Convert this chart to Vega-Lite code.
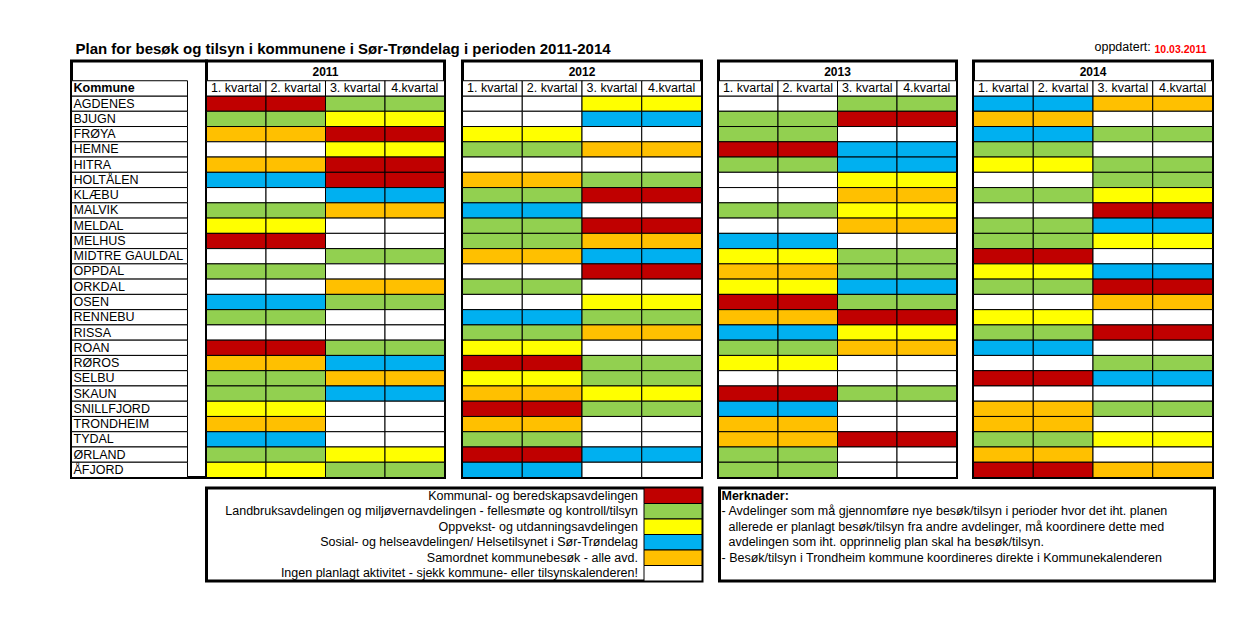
{
"$schema": "https://vega.github.io/schema/vega-lite/v6.json",
"padding": {"left": 69.5, "top": 40, "right": 5, "bottom": 5},
"config": {
  "font": "Liberation Sans",
  "view": {"stroke": "black", "strokeWidth": 3},
  "axis": {"disable": true},
  "legend": {"disable": true},
  "title": {"font": "Liberation Sans", "color": "black"},
  "text": {"font": "Liberation Sans", "color": "black"}
},
"datasets": {
"kvartaler": [{"kvartal":"1. kvartal"},{"kvartal":"2. kvartal"},{"kvartal":"3. kvartal"},{"kvartal":"4.kvartal"}],
"avdelinger": [
 {"avd":"Kommunal","tekst":"Kommunal- og beredskapsavdelingen"},
 {"avd":"Landbruk","tekst":"Landbruksavdelingen og miljøvernavdelingen - fellesmøte og kontroll/tilsyn"},
 {"avd":"Oppvekst","tekst":"Oppvekst- og utdanningsavdelingen"},
 {"avd":"Sosial","tekst":"Sosial- og helseavdelingen/ Helsetilsynet i Sør-Trøndelag"},
 {"avd":"Samordnet","tekst":"Samordnet kommunebesøk - alle avd."},
 {"avd":"Ingen","tekst":"Ingen planlagt aktivitet - sjekk kommune- eller tilsynskalenderen!"}],
"merknader": [
 {"linje":1,"tekst":"Merknader:"},
 {"linje":2,"tekst":"- Avdelinger som må gjennomføre nye besøk/tilsyn i perioder hvor det iht. planen"},
 {"linje":3,"tekst":"allerede er planlagt besøk/tilsyn fra andre avdelinger, må koordinere dette med"},
 {"linje":4,"tekst":"avdelingen som iht. opprinnelig plan skal ha besøk/tilsyn."},
 {"linje":5,"tekst":"- Besøk/tilsyn i Trondheim kommune koordineres direkte i Kommunekalenderen"}],
"plan": [
{"kommune":"AGDENES","år":2011,"kvartal":"1. kvartal","avd":"Kommunal"},{"kommune":"AGDENES","år":2011,"kvartal":"2. kvartal","avd":"Kommunal"},{"kommune":"AGDENES","år":2011,"kvartal":"3. kvartal","avd":"Landbruk"},{"kommune":"AGDENES","år":2011,"kvartal":"4.kvartal","avd":"Landbruk"},
{"kommune":"AGDENES","år":2012,"kvartal":"1. kvartal","avd":"Ingen"},{"kommune":"AGDENES","år":2012,"kvartal":"2. kvartal","avd":"Ingen"},{"kommune":"AGDENES","år":2012,"kvartal":"3. kvartal","avd":"Oppvekst"},{"kommune":"AGDENES","år":2012,"kvartal":"4.kvartal","avd":"Oppvekst"},
{"kommune":"AGDENES","år":2013,"kvartal":"1. kvartal","avd":"Ingen"},{"kommune":"AGDENES","år":2013,"kvartal":"2. kvartal","avd":"Ingen"},{"kommune":"AGDENES","år":2013,"kvartal":"3. kvartal","avd":"Landbruk"},{"kommune":"AGDENES","år":2013,"kvartal":"4.kvartal","avd":"Landbruk"},
{"kommune":"AGDENES","år":2014,"kvartal":"1. kvartal","avd":"Sosial"},{"kommune":"AGDENES","år":2014,"kvartal":"2. kvartal","avd":"Sosial"},{"kommune":"AGDENES","år":2014,"kvartal":"3. kvartal","avd":"Samordnet"},{"kommune":"AGDENES","år":2014,"kvartal":"4.kvartal","avd":"Samordnet"},
{"kommune":"BJUGN","år":2011,"kvartal":"1. kvartal","avd":"Landbruk"},{"kommune":"BJUGN","år":2011,"kvartal":"2. kvartal","avd":"Landbruk"},{"kommune":"BJUGN","år":2011,"kvartal":"3. kvartal","avd":"Oppvekst"},{"kommune":"BJUGN","år":2011,"kvartal":"4.kvartal","avd":"Oppvekst"},
{"kommune":"BJUGN","år":2012,"kvartal":"1. kvartal","avd":"Ingen"},{"kommune":"BJUGN","år":2012,"kvartal":"2. kvartal","avd":"Ingen"},{"kommune":"BJUGN","år":2012,"kvartal":"3. kvartal","avd":"Sosial"},{"kommune":"BJUGN","år":2012,"kvartal":"4.kvartal","avd":"Sosial"},
{"kommune":"BJUGN","år":2013,"kvartal":"1. kvartal","avd":"Landbruk"},{"kommune":"BJUGN","år":2013,"kvartal":"2. kvartal","avd":"Landbruk"},{"kommune":"BJUGN","år":2013,"kvartal":"3. kvartal","avd":"Kommunal"},{"kommune":"BJUGN","år":2013,"kvartal":"4.kvartal","avd":"Kommunal"},
{"kommune":"BJUGN","år":2014,"kvartal":"1. kvartal","avd":"Samordnet"},{"kommune":"BJUGN","år":2014,"kvartal":"2. kvartal","avd":"Samordnet"},{"kommune":"BJUGN","år":2014,"kvartal":"3. kvartal","avd":"Ingen"},{"kommune":"BJUGN","år":2014,"kvartal":"4.kvartal","avd":"Ingen"},
{"kommune":"FRØYA","år":2011,"kvartal":"1. kvartal","avd":"Samordnet"},{"kommune":"FRØYA","år":2011,"kvartal":"2. kvartal","avd":"Samordnet"},{"kommune":"FRØYA","år":2011,"kvartal":"3. kvartal","avd":"Kommunal"},{"kommune":"FRØYA","år":2011,"kvartal":"4.kvartal","avd":"Kommunal"},
{"kommune":"FRØYA","år":2012,"kvartal":"1. kvartal","avd":"Oppvekst"},{"kommune":"FRØYA","år":2012,"kvartal":"2. kvartal","avd":"Oppvekst"},{"kommune":"FRØYA","år":2012,"kvartal":"3. kvartal","avd":"Ingen"},{"kommune":"FRØYA","år":2012,"kvartal":"4.kvartal","avd":"Ingen"},
{"kommune":"FRØYA","år":2013,"kvartal":"1. kvartal","avd":"Landbruk"},{"kommune":"FRØYA","år":2013,"kvartal":"2. kvartal","avd":"Landbruk"},{"kommune":"FRØYA","år":2013,"kvartal":"3. kvartal","avd":"Ingen"},{"kommune":"FRØYA","år":2013,"kvartal":"4.kvartal","avd":"Ingen"},
{"kommune":"FRØYA","år":2014,"kvartal":"1. kvartal","avd":"Sosial"},{"kommune":"FRØYA","år":2014,"kvartal":"2. kvartal","avd":"Sosial"},{"kommune":"FRØYA","år":2014,"kvartal":"3. kvartal","avd":"Landbruk"},{"kommune":"FRØYA","år":2014,"kvartal":"4.kvartal","avd":"Landbruk"},
{"kommune":"HEMNE","år":2011,"kvartal":"1. kvartal","avd":"Ingen"},{"kommune":"HEMNE","år":2011,"kvartal":"2. kvartal","avd":"Ingen"},{"kommune":"HEMNE","år":2011,"kvartal":"3. kvartal","avd":"Oppvekst"},{"kommune":"HEMNE","år":2011,"kvartal":"4.kvartal","avd":"Oppvekst"},
{"kommune":"HEMNE","år":2012,"kvartal":"1. kvartal","avd":"Landbruk"},{"kommune":"HEMNE","år":2012,"kvartal":"2. kvartal","avd":"Landbruk"},{"kommune":"HEMNE","år":2012,"kvartal":"3. kvartal","avd":"Samordnet"},{"kommune":"HEMNE","år":2012,"kvartal":"4.kvartal","avd":"Samordnet"},
{"kommune":"HEMNE","år":2013,"kvartal":"1. kvartal","avd":"Kommunal"},{"kommune":"HEMNE","år":2013,"kvartal":"2. kvartal","avd":"Kommunal"},{"kommune":"HEMNE","år":2013,"kvartal":"3. kvartal","avd":"Sosial"},{"kommune":"HEMNE","år":2013,"kvartal":"4.kvartal","avd":"Sosial"},
{"kommune":"HEMNE","år":2014,"kvartal":"1. kvartal","avd":"Landbruk"},{"kommune":"HEMNE","år":2014,"kvartal":"2. kvartal","avd":"Landbruk"},{"kommune":"HEMNE","år":2014,"kvartal":"3. kvartal","avd":"Ingen"},{"kommune":"HEMNE","år":2014,"kvartal":"4.kvartal","avd":"Ingen"},
{"kommune":"HITRA","år":2011,"kvartal":"1. kvartal","avd":"Samordnet"},{"kommune":"HITRA","år":2011,"kvartal":"2. kvartal","avd":"Samordnet"},{"kommune":"HITRA","år":2011,"kvartal":"3. kvartal","avd":"Kommunal"},{"kommune":"HITRA","år":2011,"kvartal":"4.kvartal","avd":"Kommunal"},
{"kommune":"HITRA","år":2012,"kvartal":"1. kvartal","avd":"Ingen"},{"kommune":"HITRA","år":2012,"kvartal":"2. kvartal","avd":"Ingen"},{"kommune":"HITRA","år":2012,"kvartal":"3. kvartal","avd":"Ingen"},{"kommune":"HITRA","år":2012,"kvartal":"4.kvartal","avd":"Ingen"},
{"kommune":"HITRA","år":2013,"kvartal":"1. kvartal","avd":"Landbruk"},{"kommune":"HITRA","år":2013,"kvartal":"2. kvartal","avd":"Landbruk"},{"kommune":"HITRA","år":2013,"kvartal":"3. kvartal","avd":"Sosial"},{"kommune":"HITRA","år":2013,"kvartal":"4.kvartal","avd":"Sosial"},
{"kommune":"HITRA","år":2014,"kvartal":"1. kvartal","avd":"Oppvekst"},{"kommune":"HITRA","år":2014,"kvartal":"2. kvartal","avd":"Oppvekst"},{"kommune":"HITRA","år":2014,"kvartal":"3. kvartal","avd":"Landbruk"},{"kommune":"HITRA","år":2014,"kvartal":"4.kvartal","avd":"Landbruk"},
{"kommune":"HOLTÅLEN","år":2011,"kvartal":"1. kvartal","avd":"Sosial"},{"kommune":"HOLTÅLEN","år":2011,"kvartal":"2. kvartal","avd":"Sosial"},{"kommune":"HOLTÅLEN","år":2011,"kvartal":"3. kvartal","avd":"Kommunal"},{"kommune":"HOLTÅLEN","år":2011,"kvartal":"4.kvartal","avd":"Kommunal"},
{"kommune":"HOLTÅLEN","år":2012,"kvartal":"1. kvartal","avd":"Samordnet"},{"kommune":"HOLTÅLEN","år":2012,"kvartal":"2. kvartal","avd":"Samordnet"},{"kommune":"HOLTÅLEN","år":2012,"kvartal":"3. kvartal","avd":"Landbruk"},{"kommune":"HOLTÅLEN","år":2012,"kvartal":"4.kvartal","avd":"Landbruk"},
{"kommune":"HOLTÅLEN","år":2013,"kvartal":"1. kvartal","avd":"Ingen"},{"kommune":"HOLTÅLEN","år":2013,"kvartal":"2. kvartal","avd":"Ingen"},{"kommune":"HOLTÅLEN","år":2013,"kvartal":"3. kvartal","avd":"Oppvekst"},{"kommune":"HOLTÅLEN","år":2013,"kvartal":"4.kvartal","avd":"Oppvekst"},
{"kommune":"HOLTÅLEN","år":2014,"kvartal":"1. kvartal","avd":"Ingen"},{"kommune":"HOLTÅLEN","år":2014,"kvartal":"2. kvartal","avd":"Ingen"},{"kommune":"HOLTÅLEN","år":2014,"kvartal":"3. kvartal","avd":"Landbruk"},{"kommune":"HOLTÅLEN","år":2014,"kvartal":"4.kvartal","avd":"Landbruk"},
{"kommune":"KLÆBU","år":2011,"kvartal":"1. kvartal","avd":"Ingen"},{"kommune":"KLÆBU","år":2011,"kvartal":"2. kvartal","avd":"Ingen"},{"kommune":"KLÆBU","år":2011,"kvartal":"3. kvartal","avd":"Sosial"},{"kommune":"KLÆBU","år":2011,"kvartal":"4.kvartal","avd":"Sosial"},
{"kommune":"KLÆBU","år":2012,"kvartal":"1. kvartal","avd":"Landbruk"},{"kommune":"KLÆBU","år":2012,"kvartal":"2. kvartal","avd":"Landbruk"},{"kommune":"KLÆBU","år":2012,"kvartal":"3. kvartal","avd":"Kommunal"},{"kommune":"KLÆBU","år":2012,"kvartal":"4.kvartal","avd":"Kommunal"},
{"kommune":"KLÆBU","år":2013,"kvartal":"1. kvartal","avd":"Ingen"},{"kommune":"KLÆBU","år":2013,"kvartal":"2. kvartal","avd":"Ingen"},{"kommune":"KLÆBU","år":2013,"kvartal":"3. kvartal","avd":"Samordnet"},{"kommune":"KLÆBU","år":2013,"kvartal":"4.kvartal","avd":"Samordnet"},
{"kommune":"KLÆBU","år":2014,"kvartal":"1. kvartal","avd":"Landbruk"},{"kommune":"KLÆBU","år":2014,"kvartal":"2. kvartal","avd":"Landbruk"},{"kommune":"KLÆBU","år":2014,"kvartal":"3. kvartal","avd":"Oppvekst"},{"kommune":"KLÆBU","år":2014,"kvartal":"4.kvartal","avd":"Oppvekst"},
{"kommune":"MALVIK","år":2011,"kvartal":"1. kvartal","avd":"Landbruk"},{"kommune":"MALVIK","år":2011,"kvartal":"2. kvartal","avd":"Landbruk"},{"kommune":"MALVIK","år":2011,"kvartal":"3. kvartal","avd":"Samordnet"},{"kommune":"MALVIK","år":2011,"kvartal":"4.kvartal","avd":"Samordnet"},
{"kommune":"MALVIK","år":2012,"kvartal":"1. kvartal","avd":"Sosial"},{"kommune":"MALVIK","år":2012,"kvartal":"2. kvartal","avd":"Sosial"},{"kommune":"MALVIK","år":2012,"kvartal":"3. kvartal","avd":"Ingen"},{"kommune":"MALVIK","år":2012,"kvartal":"4.kvartal","avd":"Ingen"},
{"kommune":"MALVIK","år":2013,"kvartal":"1. kvartal","avd":"Landbruk"},{"kommune":"MALVIK","år":2013,"kvartal":"2. kvartal","avd":"Landbruk"},{"kommune":"MALVIK","år":2013,"kvartal":"3. kvartal","avd":"Oppvekst"},{"kommune":"MALVIK","år":2013,"kvartal":"4.kvartal","avd":"Oppvekst"},
{"kommune":"MALVIK","år":2014,"kvartal":"1. kvartal","avd":"Ingen"},{"kommune":"MALVIK","år":2014,"kvartal":"2. kvartal","avd":"Ingen"},{"kommune":"MALVIK","år":2014,"kvartal":"3. kvartal","avd":"Kommunal"},{"kommune":"MALVIK","år":2014,"kvartal":"4.kvartal","avd":"Kommunal"},
{"kommune":"MELDAL","år":2011,"kvartal":"1. kvartal","avd":"Oppvekst"},{"kommune":"MELDAL","år":2011,"kvartal":"2. kvartal","avd":"Oppvekst"},{"kommune":"MELDAL","år":2011,"kvartal":"3. kvartal","avd":"Ingen"},{"kommune":"MELDAL","år":2011,"kvartal":"4.kvartal","avd":"Ingen"},
{"kommune":"MELDAL","år":2012,"kvartal":"1. kvartal","avd":"Landbruk"},{"kommune":"MELDAL","år":2012,"kvartal":"2. kvartal","avd":"Landbruk"},{"kommune":"MELDAL","år":2012,"kvartal":"3. kvartal","avd":"Kommunal"},{"kommune":"MELDAL","år":2012,"kvartal":"4.kvartal","avd":"Kommunal"},
{"kommune":"MELDAL","år":2013,"kvartal":"1. kvartal","avd":"Ingen"},{"kommune":"MELDAL","år":2013,"kvartal":"2. kvartal","avd":"Ingen"},{"kommune":"MELDAL","år":2013,"kvartal":"3. kvartal","avd":"Samordnet"},{"kommune":"MELDAL","år":2013,"kvartal":"4.kvartal","avd":"Samordnet"},
{"kommune":"MELDAL","år":2014,"kvartal":"1. kvartal","avd":"Landbruk"},{"kommune":"MELDAL","år":2014,"kvartal":"2. kvartal","avd":"Landbruk"},{"kommune":"MELDAL","år":2014,"kvartal":"3. kvartal","avd":"Sosial"},{"kommune":"MELDAL","år":2014,"kvartal":"4.kvartal","avd":"Sosial"},
{"kommune":"MELHUS","år":2011,"kvartal":"1. kvartal","avd":"Kommunal"},{"kommune":"MELHUS","år":2011,"kvartal":"2. kvartal","avd":"Kommunal"},{"kommune":"MELHUS","år":2011,"kvartal":"3. kvartal","avd":"Ingen"},{"kommune":"MELHUS","år":2011,"kvartal":"4.kvartal","avd":"Ingen"},
{"kommune":"MELHUS","år":2012,"kvartal":"1. kvartal","avd":"Landbruk"},{"kommune":"MELHUS","år":2012,"kvartal":"2. kvartal","avd":"Landbruk"},{"kommune":"MELHUS","år":2012,"kvartal":"3. kvartal","avd":"Samordnet"},{"kommune":"MELHUS","år":2012,"kvartal":"4.kvartal","avd":"Samordnet"},
{"kommune":"MELHUS","år":2013,"kvartal":"1. kvartal","avd":"Sosial"},{"kommune":"MELHUS","år":2013,"kvartal":"2. kvartal","avd":"Sosial"},{"kommune":"MELHUS","år":2013,"kvartal":"3. kvartal","avd":"Ingen"},{"kommune":"MELHUS","år":2013,"kvartal":"4.kvartal","avd":"Ingen"},
{"kommune":"MELHUS","år":2014,"kvartal":"1. kvartal","avd":"Landbruk"},{"kommune":"MELHUS","år":2014,"kvartal":"2. kvartal","avd":"Landbruk"},{"kommune":"MELHUS","år":2014,"kvartal":"3. kvartal","avd":"Oppvekst"},{"kommune":"MELHUS","år":2014,"kvartal":"4.kvartal","avd":"Oppvekst"},
{"kommune":"MIDTRE GAULDAL","år":2011,"kvartal":"1. kvartal","avd":"Ingen"},{"kommune":"MIDTRE GAULDAL","år":2011,"kvartal":"2. kvartal","avd":"Ingen"},{"kommune":"MIDTRE GAULDAL","år":2011,"kvartal":"3. kvartal","avd":"Landbruk"},{"kommune":"MIDTRE GAULDAL","år":2011,"kvartal":"4.kvartal","avd":"Landbruk"},
{"kommune":"MIDTRE GAULDAL","år":2012,"kvartal":"1. kvartal","avd":"Samordnet"},{"kommune":"MIDTRE GAULDAL","år":2012,"kvartal":"2. kvartal","avd":"Samordnet"},{"kommune":"MIDTRE GAULDAL","år":2012,"kvartal":"3. kvartal","avd":"Sosial"},{"kommune":"MIDTRE GAULDAL","år":2012,"kvartal":"4.kvartal","avd":"Sosial"},
{"kommune":"MIDTRE GAULDAL","år":2013,"kvartal":"1. kvartal","avd":"Oppvekst"},{"kommune":"MIDTRE GAULDAL","år":2013,"kvartal":"2. kvartal","avd":"Oppvekst"},{"kommune":"MIDTRE GAULDAL","år":2013,"kvartal":"3. kvartal","avd":"Landbruk"},{"kommune":"MIDTRE GAULDAL","år":2013,"kvartal":"4.kvartal","avd":"Landbruk"},
{"kommune":"MIDTRE GAULDAL","år":2014,"kvartal":"1. kvartal","avd":"Kommunal"},{"kommune":"MIDTRE GAULDAL","år":2014,"kvartal":"2. kvartal","avd":"Kommunal"},{"kommune":"MIDTRE GAULDAL","år":2014,"kvartal":"3. kvartal","avd":"Ingen"},{"kommune":"MIDTRE GAULDAL","år":2014,"kvartal":"4.kvartal","avd":"Ingen"},
{"kommune":"OPPDAL","år":2011,"kvartal":"1. kvartal","avd":"Landbruk"},{"kommune":"OPPDAL","år":2011,"kvartal":"2. kvartal","avd":"Landbruk"},{"kommune":"OPPDAL","år":2011,"kvartal":"3. kvartal","avd":"Ingen"},{"kommune":"OPPDAL","år":2011,"kvartal":"4.kvartal","avd":"Ingen"},
{"kommune":"OPPDAL","år":2012,"kvartal":"1. kvartal","avd":"Ingen"},{"kommune":"OPPDAL","år":2012,"kvartal":"2. kvartal","avd":"Ingen"},{"kommune":"OPPDAL","år":2012,"kvartal":"3. kvartal","avd":"Kommunal"},{"kommune":"OPPDAL","år":2012,"kvartal":"4.kvartal","avd":"Kommunal"},
{"kommune":"OPPDAL","år":2013,"kvartal":"1. kvartal","avd":"Samordnet"},{"kommune":"OPPDAL","år":2013,"kvartal":"2. kvartal","avd":"Samordnet"},{"kommune":"OPPDAL","år":2013,"kvartal":"3. kvartal","avd":"Landbruk"},{"kommune":"OPPDAL","år":2013,"kvartal":"4.kvartal","avd":"Landbruk"},
{"kommune":"OPPDAL","år":2014,"kvartal":"1. kvartal","avd":"Oppvekst"},{"kommune":"OPPDAL","år":2014,"kvartal":"2. kvartal","avd":"Oppvekst"},{"kommune":"OPPDAL","år":2014,"kvartal":"3. kvartal","avd":"Sosial"},{"kommune":"OPPDAL","år":2014,"kvartal":"4.kvartal","avd":"Sosial"},
{"kommune":"ORKDAL","år":2011,"kvartal":"1. kvartal","avd":"Ingen"},{"kommune":"ORKDAL","år":2011,"kvartal":"2. kvartal","avd":"Ingen"},{"kommune":"ORKDAL","år":2011,"kvartal":"3. kvartal","avd":"Samordnet"},{"kommune":"ORKDAL","år":2011,"kvartal":"4.kvartal","avd":"Samordnet"},
{"kommune":"ORKDAL","år":2012,"kvartal":"1. kvartal","avd":"Landbruk"},{"kommune":"ORKDAL","år":2012,"kvartal":"2. kvartal","avd":"Landbruk"},{"kommune":"ORKDAL","år":2012,"kvartal":"3. kvartal","avd":"Ingen"},{"kommune":"ORKDAL","år":2012,"kvartal":"4.kvartal","avd":"Ingen"},
{"kommune":"ORKDAL","år":2013,"kvartal":"1. kvartal","avd":"Oppvekst"},{"kommune":"ORKDAL","år":2013,"kvartal":"2. kvartal","avd":"Oppvekst"},{"kommune":"ORKDAL","år":2013,"kvartal":"3. kvartal","avd":"Sosial"},{"kommune":"ORKDAL","år":2013,"kvartal":"4.kvartal","avd":"Sosial"},
{"kommune":"ORKDAL","år":2014,"kvartal":"1. kvartal","avd":"Landbruk"},{"kommune":"ORKDAL","år":2014,"kvartal":"2. kvartal","avd":"Landbruk"},{"kommune":"ORKDAL","år":2014,"kvartal":"3. kvartal","avd":"Kommunal"},{"kommune":"ORKDAL","år":2014,"kvartal":"4.kvartal","avd":"Kommunal"},
{"kommune":"OSEN","år":2011,"kvartal":"1. kvartal","avd":"Sosial"},{"kommune":"OSEN","år":2011,"kvartal":"2. kvartal","avd":"Sosial"},{"kommune":"OSEN","år":2011,"kvartal":"3. kvartal","avd":"Landbruk"},{"kommune":"OSEN","år":2011,"kvartal":"4.kvartal","avd":"Landbruk"},
{"kommune":"OSEN","år":2012,"kvartal":"1. kvartal","avd":"Ingen"},{"kommune":"OSEN","år":2012,"kvartal":"2. kvartal","avd":"Ingen"},{"kommune":"OSEN","år":2012,"kvartal":"3. kvartal","avd":"Oppvekst"},{"kommune":"OSEN","år":2012,"kvartal":"4.kvartal","avd":"Oppvekst"},
{"kommune":"OSEN","år":2013,"kvartal":"1. kvartal","avd":"Kommunal"},{"kommune":"OSEN","år":2013,"kvartal":"2. kvartal","avd":"Kommunal"},{"kommune":"OSEN","år":2013,"kvartal":"3. kvartal","avd":"Landbruk"},{"kommune":"OSEN","år":2013,"kvartal":"4.kvartal","avd":"Landbruk"},
{"kommune":"OSEN","år":2014,"kvartal":"1. kvartal","avd":"Ingen"},{"kommune":"OSEN","år":2014,"kvartal":"2. kvartal","avd":"Ingen"},{"kommune":"OSEN","år":2014,"kvartal":"3. kvartal","avd":"Samordnet"},{"kommune":"OSEN","år":2014,"kvartal":"4.kvartal","avd":"Samordnet"},
{"kommune":"RENNEBU","år":2011,"kvartal":"1. kvartal","avd":"Landbruk"},{"kommune":"RENNEBU","år":2011,"kvartal":"2. kvartal","avd":"Landbruk"},{"kommune":"RENNEBU","år":2011,"kvartal":"3. kvartal","avd":"Ingen"},{"kommune":"RENNEBU","år":2011,"kvartal":"4.kvartal","avd":"Ingen"},
{"kommune":"RENNEBU","år":2012,"kvartal":"1. kvartal","avd":"Sosial"},{"kommune":"RENNEBU","år":2012,"kvartal":"2. kvartal","avd":"Sosial"},{"kommune":"RENNEBU","år":2012,"kvartal":"3. kvartal","avd":"Landbruk"},{"kommune":"RENNEBU","år":2012,"kvartal":"4.kvartal","avd":"Landbruk"},
{"kommune":"RENNEBU","år":2013,"kvartal":"1. kvartal","avd":"Samordnet"},{"kommune":"RENNEBU","år":2013,"kvartal":"2. kvartal","avd":"Samordnet"},{"kommune":"RENNEBU","år":2013,"kvartal":"3. kvartal","avd":"Kommunal"},{"kommune":"RENNEBU","år":2013,"kvartal":"4.kvartal","avd":"Kommunal"},
{"kommune":"RENNEBU","år":2014,"kvartal":"1. kvartal","avd":"Oppvekst"},{"kommune":"RENNEBU","år":2014,"kvartal":"2. kvartal","avd":"Oppvekst"},{"kommune":"RENNEBU","år":2014,"kvartal":"3. kvartal","avd":"Ingen"},{"kommune":"RENNEBU","år":2014,"kvartal":"4.kvartal","avd":"Ingen"},
{"kommune":"RISSA","år":2011,"kvartal":"1. kvartal","avd":"Ingen"},{"kommune":"RISSA","år":2011,"kvartal":"2. kvartal","avd":"Ingen"},{"kommune":"RISSA","år":2011,"kvartal":"3. kvartal","avd":"Ingen"},{"kommune":"RISSA","år":2011,"kvartal":"4.kvartal","avd":"Ingen"},
{"kommune":"RISSA","år":2012,"kvartal":"1. kvartal","avd":"Landbruk"},{"kommune":"RISSA","år":2012,"kvartal":"2. kvartal","avd":"Landbruk"},{"kommune":"RISSA","år":2012,"kvartal":"3. kvartal","avd":"Samordnet"},{"kommune":"RISSA","år":2012,"kvartal":"4.kvartal","avd":"Samordnet"},
{"kommune":"RISSA","år":2013,"kvartal":"1. kvartal","avd":"Sosial"},{"kommune":"RISSA","år":2013,"kvartal":"2. kvartal","avd":"Sosial"},{"kommune":"RISSA","år":2013,"kvartal":"3. kvartal","avd":"Oppvekst"},{"kommune":"RISSA","år":2013,"kvartal":"4.kvartal","avd":"Oppvekst"},
{"kommune":"RISSA","år":2014,"kvartal":"1. kvartal","avd":"Landbruk"},{"kommune":"RISSA","år":2014,"kvartal":"2. kvartal","avd":"Landbruk"},{"kommune":"RISSA","år":2014,"kvartal":"3. kvartal","avd":"Kommunal"},{"kommune":"RISSA","år":2014,"kvartal":"4.kvartal","avd":"Kommunal"},
{"kommune":"ROAN","år":2011,"kvartal":"1. kvartal","avd":"Kommunal"},{"kommune":"ROAN","år":2011,"kvartal":"2. kvartal","avd":"Kommunal"},{"kommune":"ROAN","år":2011,"kvartal":"3. kvartal","avd":"Landbruk"},{"kommune":"ROAN","år":2011,"kvartal":"4.kvartal","avd":"Landbruk"},
{"kommune":"ROAN","år":2012,"kvartal":"1. kvartal","avd":"Oppvekst"},{"kommune":"ROAN","år":2012,"kvartal":"2. kvartal","avd":"Oppvekst"},{"kommune":"ROAN","år":2012,"kvartal":"3. kvartal","avd":"Ingen"},{"kommune":"ROAN","år":2012,"kvartal":"4.kvartal","avd":"Ingen"},
{"kommune":"ROAN","år":2013,"kvartal":"1. kvartal","avd":"Landbruk"},{"kommune":"ROAN","år":2013,"kvartal":"2. kvartal","avd":"Landbruk"},{"kommune":"ROAN","år":2013,"kvartal":"3. kvartal","avd":"Samordnet"},{"kommune":"ROAN","år":2013,"kvartal":"4.kvartal","avd":"Samordnet"},
{"kommune":"ROAN","år":2014,"kvartal":"1. kvartal","avd":"Sosial"},{"kommune":"ROAN","år":2014,"kvartal":"2. kvartal","avd":"Sosial"},{"kommune":"ROAN","år":2014,"kvartal":"3. kvartal","avd":"Ingen"},{"kommune":"ROAN","år":2014,"kvartal":"4.kvartal","avd":"Ingen"},
{"kommune":"RØROS","år":2011,"kvartal":"1. kvartal","avd":"Samordnet"},{"kommune":"RØROS","år":2011,"kvartal":"2. kvartal","avd":"Samordnet"},{"kommune":"RØROS","år":2011,"kvartal":"3. kvartal","avd":"Sosial"},{"kommune":"RØROS","år":2011,"kvartal":"4.kvartal","avd":"Sosial"},
{"kommune":"RØROS","år":2012,"kvartal":"1. kvartal","avd":"Kommunal"},{"kommune":"RØROS","år":2012,"kvartal":"2. kvartal","avd":"Kommunal"},{"kommune":"RØROS","år":2012,"kvartal":"3. kvartal","avd":"Landbruk"},{"kommune":"RØROS","år":2012,"kvartal":"4.kvartal","avd":"Landbruk"},
{"kommune":"RØROS","år":2013,"kvartal":"1. kvartal","avd":"Oppvekst"},{"kommune":"RØROS","år":2013,"kvartal":"2. kvartal","avd":"Oppvekst"},{"kommune":"RØROS","år":2013,"kvartal":"3. kvartal","avd":"Ingen"},{"kommune":"RØROS","år":2013,"kvartal":"4.kvartal","avd":"Ingen"},
{"kommune":"RØROS","år":2014,"kvartal":"1. kvartal","avd":"Ingen"},{"kommune":"RØROS","år":2014,"kvartal":"2. kvartal","avd":"Ingen"},{"kommune":"RØROS","år":2014,"kvartal":"3. kvartal","avd":"Landbruk"},{"kommune":"RØROS","år":2014,"kvartal":"4.kvartal","avd":"Landbruk"},
{"kommune":"SELBU","år":2011,"kvartal":"1. kvartal","avd":"Landbruk"},{"kommune":"SELBU","år":2011,"kvartal":"2. kvartal","avd":"Landbruk"},{"kommune":"SELBU","år":2011,"kvartal":"3. kvartal","avd":"Samordnet"},{"kommune":"SELBU","år":2011,"kvartal":"4.kvartal","avd":"Samordnet"},
{"kommune":"SELBU","år":2012,"kvartal":"1. kvartal","avd":"Oppvekst"},{"kommune":"SELBU","år":2012,"kvartal":"2. kvartal","avd":"Oppvekst"},{"kommune":"SELBU","år":2012,"kvartal":"3. kvartal","avd":"Landbruk"},{"kommune":"SELBU","år":2012,"kvartal":"4.kvartal","avd":"Landbruk"},
{"kommune":"SELBU","år":2013,"kvartal":"1. kvartal","avd":"Ingen"},{"kommune":"SELBU","år":2013,"kvartal":"2. kvartal","avd":"Ingen"},{"kommune":"SELBU","år":2013,"kvartal":"3. kvartal","avd":"Ingen"},{"kommune":"SELBU","år":2013,"kvartal":"4.kvartal","avd":"Ingen"},
{"kommune":"SELBU","år":2014,"kvartal":"1. kvartal","avd":"Kommunal"},{"kommune":"SELBU","år":2014,"kvartal":"2. kvartal","avd":"Kommunal"},{"kommune":"SELBU","år":2014,"kvartal":"3. kvartal","avd":"Sosial"},{"kommune":"SELBU","år":2014,"kvartal":"4.kvartal","avd":"Sosial"},
{"kommune":"SKAUN","år":2011,"kvartal":"1. kvartal","avd":"Landbruk"},{"kommune":"SKAUN","år":2011,"kvartal":"2. kvartal","avd":"Landbruk"},{"kommune":"SKAUN","år":2011,"kvartal":"3. kvartal","avd":"Sosial"},{"kommune":"SKAUN","år":2011,"kvartal":"4.kvartal","avd":"Sosial"},
{"kommune":"SKAUN","år":2012,"kvartal":"1. kvartal","avd":"Samordnet"},{"kommune":"SKAUN","år":2012,"kvartal":"2. kvartal","avd":"Samordnet"},{"kommune":"SKAUN","år":2012,"kvartal":"3. kvartal","avd":"Oppvekst"},{"kommune":"SKAUN","år":2012,"kvartal":"4.kvartal","avd":"Oppvekst"},
{"kommune":"SKAUN","år":2013,"kvartal":"1. kvartal","avd":"Kommunal"},{"kommune":"SKAUN","år":2013,"kvartal":"2. kvartal","avd":"Kommunal"},{"kommune":"SKAUN","år":2013,"kvartal":"3. kvartal","avd":"Landbruk"},{"kommune":"SKAUN","år":2013,"kvartal":"4.kvartal","avd":"Landbruk"},
{"kommune":"SKAUN","år":2014,"kvartal":"1. kvartal","avd":"Ingen"},{"kommune":"SKAUN","år":2014,"kvartal":"2. kvartal","avd":"Ingen"},{"kommune":"SKAUN","år":2014,"kvartal":"3. kvartal","avd":"Ingen"},{"kommune":"SKAUN","år":2014,"kvartal":"4.kvartal","avd":"Ingen"},
{"kommune":"SNILLFJORD","år":2011,"kvartal":"1. kvartal","avd":"Oppvekst"},{"kommune":"SNILLFJORD","år":2011,"kvartal":"2. kvartal","avd":"Oppvekst"},{"kommune":"SNILLFJORD","år":2011,"kvartal":"3. kvartal","avd":"Ingen"},{"kommune":"SNILLFJORD","år":2011,"kvartal":"4.kvartal","avd":"Ingen"},
{"kommune":"SNILLFJORD","år":2012,"kvartal":"1. kvartal","avd":"Kommunal"},{"kommune":"SNILLFJORD","år":2012,"kvartal":"2. kvartal","avd":"Kommunal"},{"kommune":"SNILLFJORD","år":2012,"kvartal":"3. kvartal","avd":"Landbruk"},{"kommune":"SNILLFJORD","år":2012,"kvartal":"4.kvartal","avd":"Landbruk"},
{"kommune":"SNILLFJORD","år":2013,"kvartal":"1. kvartal","avd":"Sosial"},{"kommune":"SNILLFJORD","år":2013,"kvartal":"2. kvartal","avd":"Sosial"},{"kommune":"SNILLFJORD","år":2013,"kvartal":"3. kvartal","avd":"Ingen"},{"kommune":"SNILLFJORD","år":2013,"kvartal":"4.kvartal","avd":"Ingen"},
{"kommune":"SNILLFJORD","år":2014,"kvartal":"1. kvartal","avd":"Samordnet"},{"kommune":"SNILLFJORD","år":2014,"kvartal":"2. kvartal","avd":"Samordnet"},{"kommune":"SNILLFJORD","år":2014,"kvartal":"3. kvartal","avd":"Landbruk"},{"kommune":"SNILLFJORD","år":2014,"kvartal":"4.kvartal","avd":"Landbruk"},
{"kommune":"TRONDHEIM","år":2011,"kvartal":"1. kvartal","avd":"Samordnet"},{"kommune":"TRONDHEIM","år":2011,"kvartal":"2. kvartal","avd":"Samordnet"},{"kommune":"TRONDHEIM","år":2011,"kvartal":"3. kvartal","avd":"Ingen"},{"kommune":"TRONDHEIM","år":2011,"kvartal":"4.kvartal","avd":"Ingen"},
{"kommune":"TRONDHEIM","år":2012,"kvartal":"1. kvartal","avd":"Samordnet"},{"kommune":"TRONDHEIM","år":2012,"kvartal":"2. kvartal","avd":"Samordnet"},{"kommune":"TRONDHEIM","år":2012,"kvartal":"3. kvartal","avd":"Ingen"},{"kommune":"TRONDHEIM","år":2012,"kvartal":"4.kvartal","avd":"Ingen"},
{"kommune":"TRONDHEIM","år":2013,"kvartal":"1. kvartal","avd":"Samordnet"},{"kommune":"TRONDHEIM","år":2013,"kvartal":"2. kvartal","avd":"Samordnet"},{"kommune":"TRONDHEIM","år":2013,"kvartal":"3. kvartal","avd":"Ingen"},{"kommune":"TRONDHEIM","år":2013,"kvartal":"4.kvartal","avd":"Ingen"},
{"kommune":"TRONDHEIM","år":2014,"kvartal":"1. kvartal","avd":"Samordnet"},{"kommune":"TRONDHEIM","år":2014,"kvartal":"2. kvartal","avd":"Samordnet"},{"kommune":"TRONDHEIM","år":2014,"kvartal":"3. kvartal","avd":"Ingen"},{"kommune":"TRONDHEIM","år":2014,"kvartal":"4.kvartal","avd":"Ingen"},
{"kommune":"TYDAL","år":2011,"kvartal":"1. kvartal","avd":"Sosial"},{"kommune":"TYDAL","år":2011,"kvartal":"2. kvartal","avd":"Sosial"},{"kommune":"TYDAL","år":2011,"kvartal":"3. kvartal","avd":"Ingen"},{"kommune":"TYDAL","år":2011,"kvartal":"4.kvartal","avd":"Ingen"},
{"kommune":"TYDAL","år":2012,"kvartal":"1. kvartal","avd":"Landbruk"},{"kommune":"TYDAL","år":2012,"kvartal":"2. kvartal","avd":"Landbruk"},{"kommune":"TYDAL","år":2012,"kvartal":"3. kvartal","avd":"Ingen"},{"kommune":"TYDAL","år":2012,"kvartal":"4.kvartal","avd":"Ingen"},
{"kommune":"TYDAL","år":2013,"kvartal":"1. kvartal","avd":"Samordnet"},{"kommune":"TYDAL","år":2013,"kvartal":"2. kvartal","avd":"Samordnet"},{"kommune":"TYDAL","år":2013,"kvartal":"3. kvartal","avd":"Kommunal"},{"kommune":"TYDAL","år":2013,"kvartal":"4.kvartal","avd":"Kommunal"},
{"kommune":"TYDAL","år":2014,"kvartal":"1. kvartal","avd":"Landbruk"},{"kommune":"TYDAL","år":2014,"kvartal":"2. kvartal","avd":"Landbruk"},{"kommune":"TYDAL","år":2014,"kvartal":"3. kvartal","avd":"Oppvekst"},{"kommune":"TYDAL","år":2014,"kvartal":"4.kvartal","avd":"Oppvekst"},
{"kommune":"ØRLAND","år":2011,"kvartal":"1. kvartal","avd":"Landbruk"},{"kommune":"ØRLAND","år":2011,"kvartal":"2. kvartal","avd":"Landbruk"},{"kommune":"ØRLAND","år":2011,"kvartal":"3. kvartal","avd":"Oppvekst"},{"kommune":"ØRLAND","år":2011,"kvartal":"4.kvartal","avd":"Oppvekst"},
{"kommune":"ØRLAND","år":2012,"kvartal":"1. kvartal","avd":"Kommunal"},{"kommune":"ØRLAND","år":2012,"kvartal":"2. kvartal","avd":"Kommunal"},{"kommune":"ØRLAND","år":2012,"kvartal":"3. kvartal","avd":"Sosial"},{"kommune":"ØRLAND","år":2012,"kvartal":"4.kvartal","avd":"Sosial"},
{"kommune":"ØRLAND","år":2013,"kvartal":"1. kvartal","avd":"Landbruk"},{"kommune":"ØRLAND","år":2013,"kvartal":"2. kvartal","avd":"Landbruk"},{"kommune":"ØRLAND","år":2013,"kvartal":"3. kvartal","avd":"Ingen"},{"kommune":"ØRLAND","år":2013,"kvartal":"4.kvartal","avd":"Ingen"},
{"kommune":"ØRLAND","år":2014,"kvartal":"1. kvartal","avd":"Samordnet"},{"kommune":"ØRLAND","år":2014,"kvartal":"2. kvartal","avd":"Samordnet"},{"kommune":"ØRLAND","år":2014,"kvartal":"3. kvartal","avd":"Ingen"},{"kommune":"ØRLAND","år":2014,"kvartal":"4.kvartal","avd":"Ingen"},
{"kommune":"ÅFJORD","år":2011,"kvartal":"1. kvartal","avd":"Oppvekst"},{"kommune":"ÅFJORD","år":2011,"kvartal":"2. kvartal","avd":"Oppvekst"},{"kommune":"ÅFJORD","år":2011,"kvartal":"3. kvartal","avd":"Landbruk"},{"kommune":"ÅFJORD","år":2011,"kvartal":"4.kvartal","avd":"Landbruk"},
{"kommune":"ÅFJORD","år":2012,"kvartal":"1. kvartal","avd":"Sosial"},{"kommune":"ÅFJORD","år":2012,"kvartal":"2. kvartal","avd":"Sosial"},{"kommune":"ÅFJORD","år":2012,"kvartal":"3. kvartal","avd":"Ingen"},{"kommune":"ÅFJORD","år":2012,"kvartal":"4.kvartal","avd":"Ingen"},
{"kommune":"ÅFJORD","år":2013,"kvartal":"1. kvartal","avd":"Landbruk"},{"kommune":"ÅFJORD","år":2013,"kvartal":"2. kvartal","avd":"Landbruk"},{"kommune":"ÅFJORD","år":2013,"kvartal":"3. kvartal","avd":"Ingen"},{"kommune":"ÅFJORD","år":2013,"kvartal":"4.kvartal","avd":"Ingen"},
{"kommune":"ÅFJORD","år":2014,"kvartal":"1. kvartal","avd":"Kommunal"},{"kommune":"ÅFJORD","år":2014,"kvartal":"2. kvartal","avd":"Kommunal"},{"kommune":"ÅFJORD","år":2014,"kvartal":"3. kvartal","avd":"Samordnet"},{"kommune":"ÅFJORD","år":2014,"kvartal":"4.kvartal","avd":"Samordnet"}
]
},
"vconcat": [
{"hconcat": [
  {"width": 135, "height": 416.5,
   "title": {"text": "Plan for besøk og tilsyn i kommunene i Sør-Trøndelag i perioden 2011-2014", "anchor": "start", "frame": "group", "fontSize": 15, "fontWeight": "bold", "baseline": "alphabetic", "offset": -8, "dx": 4},
   "layer": [
    {"data": {"name": "plan"}, "transform": [{"filter": "datum['år'] == 2011 && datum.kvartal == '1. kvartal'"}],
     "mark": {"type": "rect", "fill": "white", "stroke": "black", "strokeWidth": 1},
     "encoding": {
      "x": {"datum": "navn", "type": "nominal", "scale": {"type": "band", "domain": ["navn"], "paddingInner": 0, "paddingOuter": 0.0819, "align": 0}, "axis": null},
      "y": {"field": "kommune", "type": "nominal", "scale": {"type": "band", "domain": ["Årstall","Kvartal","AGDENES","BJUGN","FRØYA","HEMNE","HITRA","HOLTÅLEN","KLÆBU","MALVIK","MELDAL","MELHUS","MIDTRE GAULDAL","OPPDAL","ORKDAL","OSEN","RENNEBU","RISSA","ROAN","RØROS","SELBU","SKAUN","SNILLFJORD","TRONDHEIM","TYDAL","ØRLAND","ÅFJORD"], "paddingInner": 0, "paddingOuter": 0.147, "align": 1}, "axis": null}}},
    {"data": {"values": [{"rad": "Kvartal"}]},
     "mark": {"type": "rect", "fill": "white", "stroke": "black", "strokeWidth": 1},
     "encoding": {"x": {"datum": "navn", "type": "nominal", "axis": null}, "y": {"field": "rad", "type": "nominal", "axis": null}}},
    {"data": {"name": "plan"}, "transform": [{"filter": "datum['år'] == 2011 && datum.kvartal == '1. kvartal'"}],
     "mark": {"type": "text", "align": "left", "dx": 2, "fontSize": 12.5},
     "encoding": {"x": {"datum": "navn", "type": "nominal", "bandPosition": 0, "axis": null}, "y": {"field": "kommune", "type": "nominal", "axis": null}, "text": {"field": "kommune"}}},
    {"data": {"values": [{"tekst": "Kommune"}]},
     "mark": {"type": "text", "align": "left", "dx": 2, "fontSize": 12.5, "fontWeight": "bold"},
     "encoding": {"x": {"datum": "navn", "type": "nominal", "bandPosition": 0, "axis": null}, "y": {"datum": "Kvartal", "type": "nominal", "axis": null}, "text": {"field": "tekst"}}}
   ]},
  {"width": 238, "height": 416.5,
   "layer": [
    {"data": {"name": "plan"}, "transform": [{"filter": {"field": "år", "equal": 2011}}],
     "mark": {"type": "rect", "stroke": "black", "strokeWidth": 1},
     "encoding": {
      "x": {"field": "kvartal", "type": "nominal", "scale": {"type": "band", "domain": ["1. kvartal","2. kvartal","3. kvartal","4.kvartal"], "paddingInner": 0, "paddingOuter": 0}, "axis": null},
      "y": {"field": "kommune", "type": "nominal", "scale": {"type": "band", "domain": ["Årstall","Kvartal","AGDENES","BJUGN","FRØYA","HEMNE","HITRA","HOLTÅLEN","KLÆBU","MALVIK","MELDAL","MELHUS","MIDTRE GAULDAL","OPPDAL","ORKDAL","OSEN","RENNEBU","RISSA","ROAN","RØROS","SELBU","SKAUN","SNILLFJORD","TRONDHEIM","TYDAL","ØRLAND","ÅFJORD"], "paddingInner": 0, "paddingOuter": 0.147, "align": 1}, "axis": null},
      "fill": {"field": "avd", "type": "nominal", "scale": {"domain": ["Kommunal","Landbruk","Oppvekst","Sosial","Samordnet","Ingen"], "range": ["#C00000","#92D050","#FFFF00","#00B0F0","#FFC000","#FFFFFF"]}, "legend": null}}},
    {"data": {"name": "kvartaler"}, "mark": {"type": "rect", "fill": "white", "stroke": "black", "strokeWidth": 1},
     "encoding": {"x": {"field": "kvartal", "type": "nominal", "axis": null}, "y": {"datum": "Kvartal", "type": "nominal", "axis": null}}},
    {"data": {"name": "kvartaler"}, "mark": {"type": "text", "fontSize": 12.5},
     "encoding": {"x": {"field": "kvartal", "type": "nominal", "axis": null}, "y": {"datum": "Kvartal", "type": "nominal", "axis": null}, "text": {"field": "kvartal"}}},
    {"data": {"values": [{"år": "2011"}]}, "mark": {"type": "text", "fontSize": 12, "fontWeight": "bold", "dy": -1},
     "encoding": {"x": {"datum": "2. kvartal", "type": "nominal", "bandPosition": 1, "axis": null}, "y": {"datum": "Årstall", "type": "nominal", "axis": null}, "text": {"field": "år"}}}
   ]},
  {"width": 18, "height": 416.5, "data": {"values": [{}]}, "mark": "text", "encoding": {"text": {"value": ""}}},
  {"width": 239, "height": 416.5,
   "layer": [
    {"data": {"name": "plan"}, "transform": [{"filter": {"field": "år", "equal": 2012}}],
     "mark": {"type": "rect", "stroke": "black", "strokeWidth": 1},
     "encoding": {
      "x": {"field": "kvartal", "type": "nominal", "scale": {"type": "band", "domain": ["1. kvartal","2. kvartal","3. kvartal","4.kvartal"], "paddingInner": 0, "paddingOuter": 0}, "axis": null},
      "y": {"field": "kommune", "type": "nominal", "scale": {"type": "band", "domain": ["Årstall","Kvartal","AGDENES","BJUGN","FRØYA","HEMNE","HITRA","HOLTÅLEN","KLÆBU","MALVIK","MELDAL","MELHUS","MIDTRE GAULDAL","OPPDAL","ORKDAL","OSEN","RENNEBU","RISSA","ROAN","RØROS","SELBU","SKAUN","SNILLFJORD","TRONDHEIM","TYDAL","ØRLAND","ÅFJORD"], "paddingInner": 0, "paddingOuter": 0.147, "align": 1}, "axis": null},
      "fill": {"field": "avd", "type": "nominal", "scale": {"domain": ["Kommunal","Landbruk","Oppvekst","Sosial","Samordnet","Ingen"], "range": ["#C00000","#92D050","#FFFF00","#00B0F0","#FFC000","#FFFFFF"]}, "legend": null}}},
    {"data": {"name": "kvartaler"}, "mark": {"type": "rect", "fill": "white", "stroke": "black", "strokeWidth": 1},
     "encoding": {"x": {"field": "kvartal", "type": "nominal", "axis": null}, "y": {"datum": "Kvartal", "type": "nominal", "axis": null}}},
    {"data": {"name": "kvartaler"}, "mark": {"type": "text", "fontSize": 12.5},
     "encoding": {"x": {"field": "kvartal", "type": "nominal", "axis": null}, "y": {"datum": "Kvartal", "type": "nominal", "axis": null}, "text": {"field": "kvartal"}}},
    {"data": {"values": [{"år": "2012"}]}, "mark": {"type": "text", "fontSize": 12, "fontWeight": "bold", "dy": -1},
     "encoding": {"x": {"datum": "2. kvartal", "type": "nominal", "bandPosition": 1, "axis": null}, "y": {"datum": "Årstall", "type": "nominal", "axis": null}, "text": {"field": "år"}}}
   ]},
  {"width": 17, "height": 416.5, "data": {"values": [{}]}, "mark": "text", "encoding": {"text": {"value": ""}}},
  {"width": 238, "height": 416.5,
   "layer": [
    {"data": {"name": "plan"}, "transform": [{"filter": {"field": "år", "equal": 2013}}],
     "mark": {"type": "rect", "stroke": "black", "strokeWidth": 1},
     "encoding": {
      "x": {"field": "kvartal", "type": "nominal", "scale": {"type": "band", "domain": ["1. kvartal","2. kvartal","3. kvartal","4.kvartal"], "paddingInner": 0, "paddingOuter": 0}, "axis": null},
      "y": {"field": "kommune", "type": "nominal", "scale": {"type": "band", "domain": ["Årstall","Kvartal","AGDENES","BJUGN","FRØYA","HEMNE","HITRA","HOLTÅLEN","KLÆBU","MALVIK","MELDAL","MELHUS","MIDTRE GAULDAL","OPPDAL","ORKDAL","OSEN","RENNEBU","RISSA","ROAN","RØROS","SELBU","SKAUN","SNILLFJORD","TRONDHEIM","TYDAL","ØRLAND","ÅFJORD"], "paddingInner": 0, "paddingOuter": 0.147, "align": 1}, "axis": null},
      "fill": {"field": "avd", "type": "nominal", "scale": {"domain": ["Kommunal","Landbruk","Oppvekst","Sosial","Samordnet","Ingen"], "range": ["#C00000","#92D050","#FFFF00","#00B0F0","#FFC000","#FFFFFF"]}, "legend": null}}},
    {"data": {"name": "kvartaler"}, "mark": {"type": "rect", "fill": "white", "stroke": "black", "strokeWidth": 1},
     "encoding": {"x": {"field": "kvartal", "type": "nominal", "axis": null}, "y": {"datum": "Kvartal", "type": "nominal", "axis": null}}},
    {"data": {"name": "kvartaler"}, "mark": {"type": "text", "fontSize": 12.5},
     "encoding": {"x": {"field": "kvartal", "type": "nominal", "axis": null}, "y": {"datum": "Kvartal", "type": "nominal", "axis": null}, "text": {"field": "kvartal"}}},
    {"data": {"values": [{"år": "2013"}]}, "mark": {"type": "text", "fontSize": 12, "fontWeight": "bold", "dy": -1},
     "encoding": {"x": {"datum": "2. kvartal", "type": "nominal", "bandPosition": 1, "axis": null}, "y": {"datum": "Årstall", "type": "nominal", "axis": null}, "text": {"field": "år"}}}
   ]},
  {"width": 17, "height": 416.5,
   "title": {"text": "oppdatert:", "anchor": "start", "frame": "group", "fontSize": 12.5, "fontWeight": "normal", "baseline": "alphabetic", "offset": -2, "dx": 138},
   "data": {"values": [{}]}, "mark": "text", "encoding": {"text": {"value": ""}}},
  {"width": 239, "height": 416.5,
   "title": {"text": "10.03.2011", "anchor": "end", "frame": "group", "fontSize": 10.5, "fontWeight": "bold", "color": "#FF0000", "baseline": "alphabetic", "offset": -2, "dx": -6},
   "layer": [
    {"data": {"name": "plan"}, "transform": [{"filter": {"field": "år", "equal": 2014}}],
     "mark": {"type": "rect", "stroke": "black", "strokeWidth": 1},
     "encoding": {
      "x": {"field": "kvartal", "type": "nominal", "scale": {"type": "band", "domain": ["1. kvartal","2. kvartal","3. kvartal","4.kvartal"], "paddingInner": 0, "paddingOuter": 0}, "axis": null},
      "y": {"field": "kommune", "type": "nominal", "scale": {"type": "band", "domain": ["Årstall","Kvartal","AGDENES","BJUGN","FRØYA","HEMNE","HITRA","HOLTÅLEN","KLÆBU","MALVIK","MELDAL","MELHUS","MIDTRE GAULDAL","OPPDAL","ORKDAL","OSEN","RENNEBU","RISSA","ROAN","RØROS","SELBU","SKAUN","SNILLFJORD","TRONDHEIM","TYDAL","ØRLAND","ÅFJORD"], "paddingInner": 0, "paddingOuter": 0.147, "align": 1}, "axis": null},
      "fill": {"field": "avd", "type": "nominal", "scale": {"domain": ["Kommunal","Landbruk","Oppvekst","Sosial","Samordnet","Ingen"], "range": ["#C00000","#92D050","#FFFF00","#00B0F0","#FFC000","#FFFFFF"]}, "legend": null}}},
    {"data": {"name": "kvartaler"}, "mark": {"type": "rect", "fill": "white", "stroke": "black", "strokeWidth": 1},
     "encoding": {"x": {"field": "kvartal", "type": "nominal", "axis": null}, "y": {"datum": "Kvartal", "type": "nominal", "axis": null}}},
    {"data": {"name": "kvartaler"}, "mark": {"type": "text", "fontSize": 12.5},
     "encoding": {"x": {"field": "kvartal", "type": "nominal", "axis": null}, "y": {"datum": "Kvartal", "type": "nominal", "axis": null}, "text": {"field": "kvartal"}}},
    {"data": {"values": [{"år": "2014"}]}, "mark": {"type": "text", "fontSize": 12, "fontWeight": "bold", "dy": -1},
     "encoding": {"x": {"datum": "2. kvartal", "type": "nominal", "bandPosition": 1, "axis": null}, "y": {"datum": "Årstall", "type": "nominal", "axis": null}, "text": {"field": "år"}}}
   ]}
 ], "spacing": 0, "bounds": "flush"},
{"hconcat": [
  {"width": 135, "height": 93, "view": {"stroke": "transparent", "strokeWidth": 3}, "data": {"values": [{}]}, "mark": "text", "encoding": {"text": {"value": ""}}},
  {"width": 495.5, "height": 93,
   "layer": [
    {"data": {"name": "avdelinger"}, "mark": {"type": "rect", "stroke": "black", "strokeWidth": 1},
     "encoding": {
      "x": {"datum": "farge", "type": "nominal", "scale": {"type": "band", "domain": ["farge"], "paddingInner": 0.7349, "paddingOuter": 1, "align": 1}, "axis": null},
      "y": {"field": "avd", "type": "nominal", "sort": null, "scale": {"type": "band", "domain": ["Kommunal","Landbruk","Oppvekst","Sosial","Samordnet","Ingen"], "paddingInner": 0, "paddingOuter": 0}, "axis": null},
      "fill": {"field": "avd", "type": "nominal", "scale": {"domain": ["Kommunal","Landbruk","Oppvekst","Sosial","Samordnet","Ingen"], "range": ["#C00000","#92D050","#FFFF00","#00B0F0","#FFC000","#FFFFFF"]}, "legend": null}}},
    {"data": {"name": "avdelinger"}, "mark": {"type": "text", "align": "right", "dx": -6, "fontSize": 12.5},
     "encoding": {
      "x": {"datum": "farge", "type": "nominal", "bandPosition": 0, "axis": null},
      "y": {"field": "avd", "type": "nominal", "axis": null},
      "text": {"field": "tekst"}}}
   ]},
  {"width": 17, "height": 93, "view": {"stroke": null}, "data": {"values": [{}]}, "mark": "text", "encoding": {"text": {"value": ""}}},
  {"width": 495, "height": 93,
   "layer": [
    {"data": {"name": "merknader"}, "transform": [{"filter": "datum.linje == 2 || datum.linje == 5"}],
     "mark": {"type": "text", "align": "left", "dx": 2, "fontSize": 12.5},
     "encoding": {
      "x": {"datum": "tekst", "type": "nominal", "bandPosition": 0, "scale": {"type": "band", "domain": ["tekst"], "paddingInner": 0, "paddingOuter": 0}, "axis": null},
      "y": {"field": "linje", "type": "ordinal", "scale": {"type": "band", "domain": [1,2,3,4,5,6], "paddingInner": 0, "paddingOuter": 0}, "axis": null},
      "text": {"field": "tekst"}}},
    {"data": {"name": "merknader"}, "transform": [{"filter": "datum.linje == 3 || datum.linje == 4"}],
     "mark": {"type": "text", "align": "left", "dx": 9, "fontSize": 12.5},
     "encoding": {
      "x": {"datum": "tekst", "type": "nominal", "bandPosition": 0, "axis": null},
      "y": {"field": "linje", "type": "ordinal", "axis": null},
      "text": {"field": "tekst"}}},
    {"data": {"name": "merknader"}, "transform": [{"filter": "datum.linje == 1"}],
     "mark": {"type": "text", "align": "left", "dx": 2, "fontSize": 12.5, "fontWeight": "bold"},
     "encoding": {
      "x": {"datum": "tekst", "type": "nominal", "bandPosition": 0, "axis": null},
      "y": {"field": "linje", "type": "ordinal", "axis": null},
      "text": {"field": "tekst"}}}
   ]}
 ], "spacing": 0, "bounds": "flush"}
],
"spacing": 6
}
